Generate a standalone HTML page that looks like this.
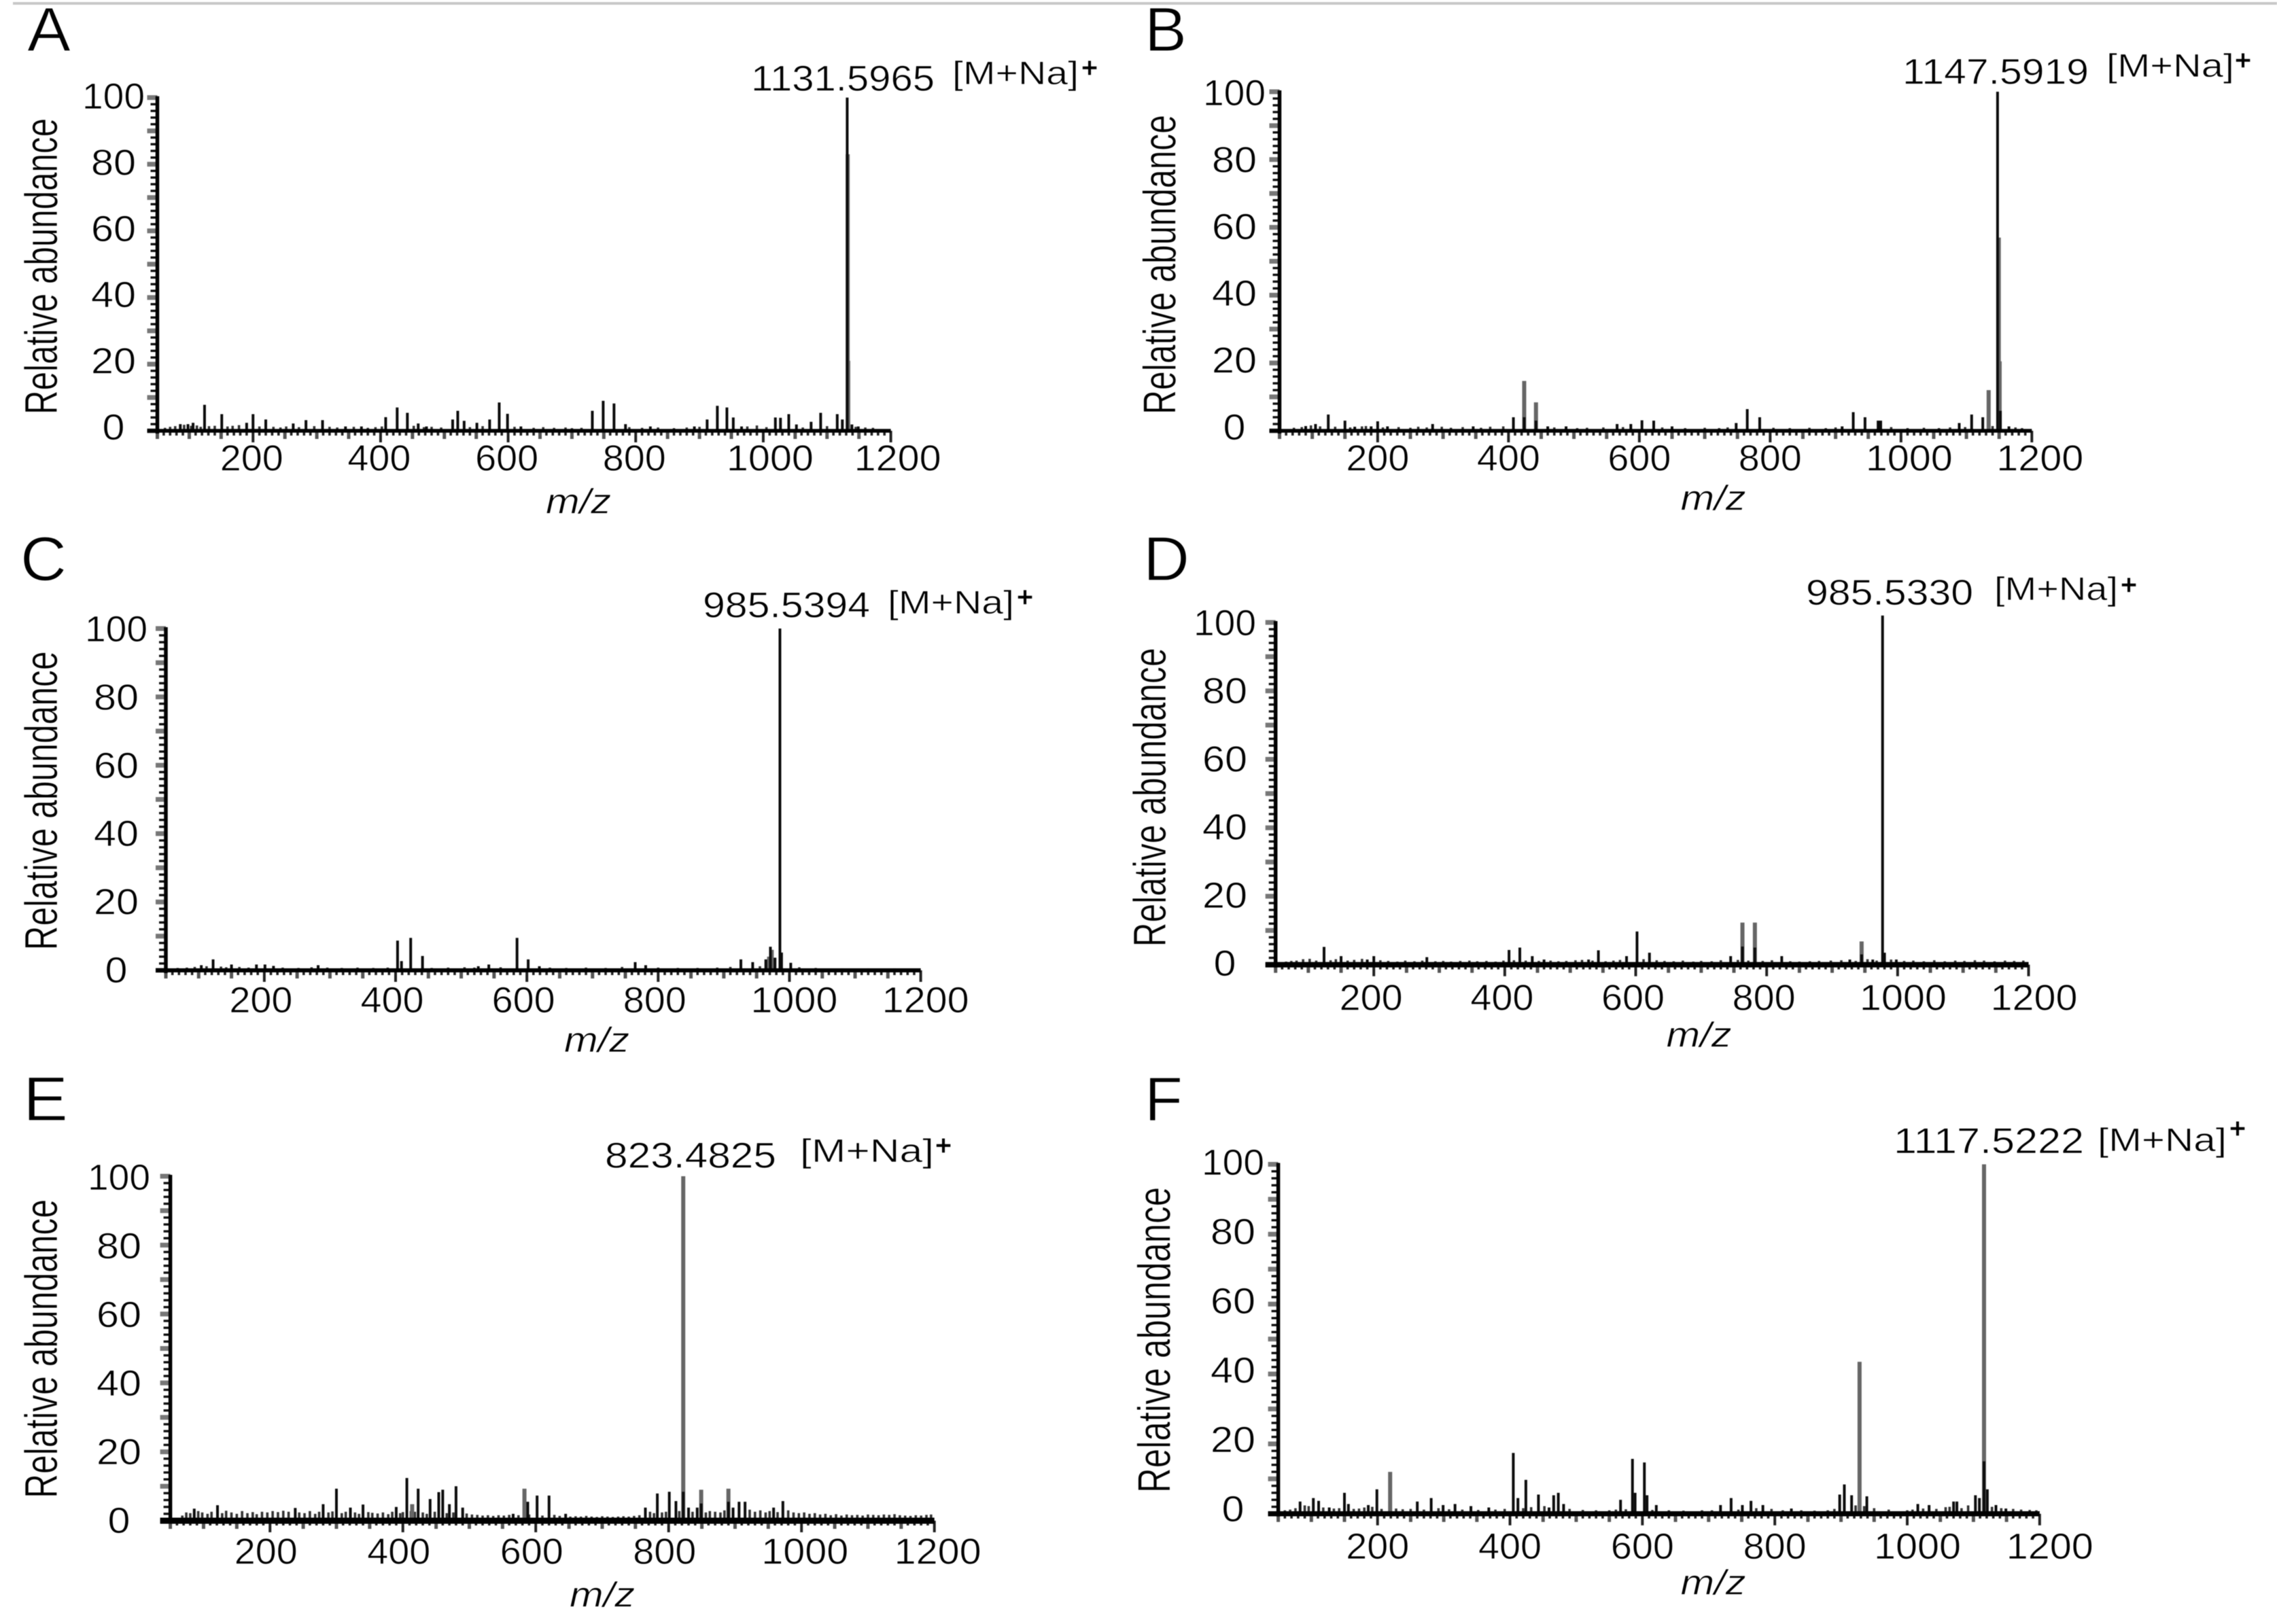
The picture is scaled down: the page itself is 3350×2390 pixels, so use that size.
<!DOCTYPE html>
<html lang="en">
<head>
<meta charset="utf-8">
<title>Mass spectra panels A–F</title>
<style>
html,body{margin:0;padding:0;background:#fff;}
svg{display:block;filter:blur(.5px);}
text{font-family:"Liberation Sans",sans-serif;fill:#000;stroke:#fff;stroke-width:.7px;}
.letter{font-size:92px;stroke-width:1.2px;}
.title{font-size:68px;stroke-width:.7px;}
.tick{font-size:54px;}
.mzlabel{font-size:52px;font-style:italic;}
.num{font-size:53px;}
.ion{font-size:48px;}
.plus{font-size:42px;font-weight:bold;stroke-width:.5px;}
.peak{stroke:#0c0c0c;stroke-width:4px;}
.faded{stroke:#666;stroke-width:6px;}
.grass{stroke:#333;stroke-width:3.6px;}
.axis{stroke:#000;stroke-width:5.5px;}
.tk{stroke:#222;stroke-width:3.6px;}
.tkm{stroke:#555;stroke-width:5px;}
.tkb{stroke:#222;stroke-width:4px;}
.ytk{stroke:#111;stroke-width:3.4px;}
.ytkm{stroke:#777;stroke-width:7px;}
</style>
</head>
<body>
<svg id="figure" xmlns="http://www.w3.org/2000/svg" width="3350" height="2390" viewBox="0 0 3350 2390">
<rect width="3350" height="2390" fill="#fff"/>
<rect x="19" y="3" width="3331" height="4" fill="#c8c8c8"/>

<g id="panel-a">
<text class="letter" x="40" y="75" textLength="64" lengthAdjust="spacingAndGlyphs">A</text>
<text class="title" transform="translate(84,610) rotate(-90)" textLength="436" lengthAdjust="spacingAndGlyphs">Relative abundance</text>
<text class="mzlabel" x="803" y="755.5" textLength="96" lengthAdjust="spacingAndGlyphs">m/z</text>
<text class="num" x="1105" y="133.5" textLength="270" lengthAdjust="spacingAndGlyphs">1131.5965</text>
<text class="ion" x="1401" y="124" textLength="186" lengthAdjust="spacingAndGlyphs">[M+Na]</text>
<text class="plus" x="1603" y="114" text-anchor="middle">+</text>
</g>

<g id="panel-b">
<text class="letter" x="1684" y="75" textLength="62" lengthAdjust="spacingAndGlyphs">B</text>
<text class="title" transform="translate(1729.5,610) rotate(-90)" textLength="441" lengthAdjust="spacingAndGlyphs">Relative abundance</text>
<text class="mzlabel" x="2472.5" y="750.5" textLength="96" lengthAdjust="spacingAndGlyphs">m/z</text>
<text class="num" x="2799" y="123.5" textLength="274" lengthAdjust="spacingAndGlyphs">1147.5919</text>
<text class="ion" x="3099" y="113" textLength="188" lengthAdjust="spacingAndGlyphs">[M+Na]</text>
<text class="plus" x="3300" y="103" text-anchor="middle">+</text>
</g>

<g id="panel-c">
<text class="letter" x="30" y="854" textLength="68" lengthAdjust="spacingAndGlyphs">C</text>
<text class="title" transform="translate(84,1398.5) rotate(-90)" textLength="440" lengthAdjust="spacingAndGlyphs">Relative abundance</text>
<text class="mzlabel" x="830" y="1548" textLength="96" lengthAdjust="spacingAndGlyphs">m/z</text>
<text class="num" x="1034" y="908.5" textLength="246" lengthAdjust="spacingAndGlyphs">985.5394</text>
<text class="ion" x="1306" y="903" textLength="186" lengthAdjust="spacingAndGlyphs">[M+Na]</text>
<text class="plus" x="1508" y="893" text-anchor="middle">+</text>
</g>

<g id="panel-d">
<text class="letter" x="1682" y="854" textLength="68" lengthAdjust="spacingAndGlyphs">D</text>
<text class="title" transform="translate(1715,1393.5) rotate(-90)" textLength="440" lengthAdjust="spacingAndGlyphs">Relative abundance</text>
<text class="mzlabel" x="2451.5" y="1540.5" textLength="96" lengthAdjust="spacingAndGlyphs">m/z</text>
<text class="num" x="2657" y="890" textLength="246" lengthAdjust="spacingAndGlyphs">985.5330</text>
<text class="ion" x="2934" y="883" textLength="182" lengthAdjust="spacingAndGlyphs">[M+Na]</text>
<text class="plus" x="3132" y="875" text-anchor="middle">+</text>
</g>

<g id="panel-e">
<text class="letter" x="34" y="1649" textLength="66" lengthAdjust="spacingAndGlyphs">E</text>
<text class="title" transform="translate(84,2205) rotate(-90)" textLength="440" lengthAdjust="spacingAndGlyphs">Relative abundance</text>
<text class="mzlabel" x="838" y="2364.5" textLength="96" lengthAdjust="spacingAndGlyphs">m/z</text>
<text class="num" x="890" y="1718.5" textLength="252" lengthAdjust="spacingAndGlyphs">823.4825</text>
<text class="ion" x="1177" y="1710" textLength="197" lengthAdjust="spacingAndGlyphs">[M+Na]</text>
<text class="plus" x="1388" y="1700" text-anchor="middle">+</text>
</g>

<g id="panel-f">
<text class="letter" x="1684" y="1649" textLength="56" lengthAdjust="spacingAndGlyphs">F</text>
<text class="title" transform="translate(1721.5,2197) rotate(-90)" textLength="450" lengthAdjust="spacingAndGlyphs">Relative abundance</text>
<text class="mzlabel" x="2472.5" y="2346.5" textLength="96" lengthAdjust="spacingAndGlyphs">m/z</text>
<text class="num" x="2786" y="1697" textLength="280" lengthAdjust="spacingAndGlyphs">1117.5222</text>
<text class="ion" x="3086" y="1694" textLength="190" lengthAdjust="spacingAndGlyphs">[M+Na]</text>
<text class="plus" x="3292" y="1675" text-anchor="middle">+</text>
</g>
</svg>

<script>
const xTickLabels = [200, 400, 600, 800, 1000, 1200];
const yTickLabels = [0, 20, 40, 60, 80, 100];

const peakMzA = [86,98,106,124,151,190,200,220,263,283,309,345,370,408,426,442,459,472,513,521,531,551,571,586,599,620,732,749,766,784,823,892,912,928,943,953,966,1019,1027,1040,1052,1075,1090,1116,1124,1131.6,1139,1149];
const peakAbA = [2,2,2.4,7.8,5,2.4,5,3.4,2.2,3.2,3.2,1.3,1.3,4.1,7,5.4,2.2,1.3,3.4,6,3,2.4,3.4,8.5,5.1,1.3,6,9,8.2,2,1.3,1.3,3.4,7.5,7,4,1.3,4,3.9,5,1.9,2.7,5.4,5,3.4,100,1.9,1.3];
const fadedMzA = [1132.4,1133.2];
const fadedAbA = [83,21];
const grassMzA = [62,70,78,92,103,112,118,131,140,160,168,178,210,232,243,252,272,296,320,332,358,380,392,402,452,468,480,495,540,560,610,640,655,672,690,700,715,790,810,835,860,880,900,975,990,1005,1062,1100,1145,1160,1172];
const grassAbA = [.9,1.2,1.4,1.8,1.5,1.6,1.2,1.4,1.5,1.3,1.5,1.7,1.3,1.2,1,1.3,1.1,1.4,1.2,1,1.2,.9,1.1,1.3,1.5,1.1,1.2,1,1.1,1.4,1.2,.9,1.1,.9,1,.8,.9,1.1,.9,1,.8,1,1.2,1.3,1.6,1.1,1,1.4,1.2,1,.9];

const peakMzB = [90,105,124.5,150,165,190,200,215,284,346,407.5,424,442,460,488,566,587,604,622,650,748,765,784,910,927,945,965,969,1089,1108,1125,1147.6,1152,1165];
const peakAbB = [1.4,2,4.8,3,1.2,1.3,2.8,1.3,2,1.3,4,4,3,1.3,1.3,2,2,3.1,3,1.3,2.3,6.4,4,1.3,5.5,4,3,3,2.3,4.8,4,100,5.9,1.3];
const fadedMzB = [424,442,1134,1149.5,1150.8];
const fadedAbB = [14.7,8.4,12,57,20.5];
const grassMzB = [72,84,98,112,135,158,176,182,208,232,250,262,275,298,312,330,358,372,392,470,505,520,545,575,635,670,700,722,735,805,830,860,885,900,985,1010,1035,1058,1075,1098,1140,1175,1185];
const grassAbB = [.9,1.1,1.6,1.3,1.2,1,1.3,1.4,1,1.1,.9,1.2,1,1.2,.9,1.1,.9,1.2,1.3,1,.8,.9,1,1.1,1,.8,.9,.8,1,.9,.8,.9,.8,1,1.1,.8,.9,.8,1,1.1,1.4,1,.8];

const peakMzC = [104,122,150,188,201,214,282,403,409,423,441,542,526,585,602,619,765,781,926,944,964,971,978,985.5,988,1002];
const peakAbC = [1.5,3.2,1.7,1.7,1.7,1.3,1.5,8.7,2.7,9.5,4.2,1.7,1.2,9.5,3.2,1.2,2.4,1.5,3.2,2.4,3.2,6.9,3.7,100,5.2,2.2];
const fadedMzC = [969,973];
const fadedAbC = [4,6];
const grassMzC = [68,82,94,112,134,142,162,176,228,252,272,296,318,342,366,388,455,480,505,520,560,635,660,690,720,745,800,830,860,890,910,955,1015,1040,1080,1120,1160];
const grassAbC = [.7,.8,1,1.2,1.1,.9,1,.8,.8,.7,.9,.8,.7,.8,.7,.8,.7,.8,.9,.8,.9,.8,.7,.8,.7,1,.8,.7,.7,.8,1,1.2,.9,.7,.6,.6,.6];

const peakMzD = [124,150,190,200,281,406.5,423,442,460,528,543,586,602,621,745,763,782,823,927,945,962,977,980,998];
const peakAbD = [5.2,2.5,1.5,2.5,2.2,4.3,5,2.5,1.5,1.5,4.2,2.5,9.7,3.5,2.5,5.3,5,2.5,1.5,3,1.5,102,3.5,1.5];
const fadedMzD = [763,782,945];
const fadedAbD = [12.3,12.3,6.8];
const grassMzD = [66,74,82,92,102,112,134,142,160,170,182,210,222,236,248,262,274,294,306,318,332,346,358,372,386,398,414,432,452,470,482,494,508,518,534,554,566,576,612,632,644,658,672,688,700,716,730,756,772,794,808,836,850,866,880,898,914,936,954,968,990,1010,1024,1040,1056,1072,1088,1102,1118,1132,1148,1164,1178,1192];
const grassAbD = [.9,1.1,1.2,1.6,1.7,1.2,1.3,1.6,1.2,1.4,1.7,1.3,1.1,.9,1.2,1,1.2,1,1.1,.9,1.1,1.2,1,1.1,.9,1.2,1.3,1.2,1.1,1.2,1,1.1,1.3,1.4,1.2,1,1.2,1.4,1.6,1.3,1.1,1,1.2,.9,1.1,1,1.3,1.4,1.2,1.1,1.3,1,.9,1,1.1,1.2,1.3,1.1,1.6,1.2,1.5,1.1,1.2,1,1.3,1,1.2,1.1,1.3,1.2,1,1.2,1.1,1.2];

const peakMzE = [86,121,238,280,300,321,340,390,406,423,441,454,460,470,480,490,566,588,602,620,645,765,783,801,811,822,830,843,849,890,897,906,915,958,972];
const peakAbE = [3.5,4.5,3.7,4.8,9.3,3.8,4.7,4,12.4,9.3,6.3,8.3,9,4.8,10,3.8,2,5.5,7.3,7.3,2,3.8,7.9,8.4,5.7,8.4,3.8,3.8,5,5.5,3.8,5.5,5.5,3.8,5.7];
const fadedMzE = [414,583,822,849,890];
const fadedAbE = [4.8,9.3,100,9,9.3];
const grassMzE = [68,74,80,92,98,106,112,128,134,142,150,158,166,174,180,188,196,204,212,220,228,244,252,260,268,274,288,294,308,314,328,334,348,354,362,370,378,384,396,400,412,418,430,436,448,466,476,496,504,512,520,528,536,544,552,560,574,590,610,628,636,652,660,668,676,684,692,700,708,716,724,732,740,748,756,772,778,790,796,816,836,856,862,870,878,884,922,930,938,946,952,964,980,988,996,1004,1012,1020,1028,1036,1044,1052,1060,1068,1076,1084,1092,1100,1108,1116,1124,1132,1140,1148,1156,1164,1172,1180,1188,1195];
const grassAbE = [1.5,2.4,2.2,2.8,2.4,2,2.6,2.2,2.9,2.4,2,2.8,2.2,2.5,1.9,2.6,2.4,2.8,2.5,2.9,2.6,2.4,2.2,2.8,2,2.6,2.4,2.7,2.2,2.6,2.4,2,2.5,2.3,2.1,2.4,1.9,2.6,2.2,2.5,2.8,2.6,2.4,2,2.6,2.2,2.4,2.1,1.8,1.7,1.5,1.6,1.4,1.6,1.5,1.7,1.6,1.8,1.5,1.7,1.4,1.2,1.3,1.2,1.4,1.2,1.1,1.3,1.2,1.1,1.2,1.3,1.2,1.4,1.6,2.6,2.2,2.4,2.6,2.8,2.6,2.4,2.8,2.6,2.4,3,3.2,2.6,3,2.4,2.8,2.5,3,2.4,2.2,2.4,2,2.2,1.8,2,1.6,1.9,1.5,1.8,1.6,1.7,1.5,1.8,1.7,1.6,1.8,1.7,1.9,1.6,1.5,1.4,1.6,1.5,1.7,1.8];

const peakMzF = [83,103,111,127,150,156,186,199,260,281,299,317,341,368,405,412,424,443,459,466,473,481,567,585,589,603,607,621,718,734,751,764,782,825,898,905,916,939,1016,1033,1070,1075,1103,1109,1116,1121,1134,1149];
const peakAbF = [3.5,4.5,3.7,1.8,6,2.8,2.5,7,3.5,4.5,2.5,2.8,2.2,1.8,17.4,4.5,9.7,5.5,1.8,5.3,6,2.8,4,15.7,6,14.7,5.3,2.5,2.5,4.5,2.5,3.7,2.5,1.5,5.5,8.4,5.3,5,2.8,2.5,3.5,3.5,5.3,4.5,15,7,2.5,1.5];
const fadedMzF = [219,928,1116];
const fadedAbF = [12,43.5,100];
const grassMzF = [60,68,76,90,96,118,134,142,164,172,180,192,206,228,238,250,270,292,308,328,352,378,392,420,432,452,490,510,530,550,560,575,615,640,662,690,705,745,772,795,812,840,860,880,890,922,935,950,972,1000,1008,1024,1044,1058,1064,1082,1092,1128,1142,1160,1172,1185,1195];
const grassAbF = [1,1.2,1.6,2.4,2.2,1.8,1.5,1.6,1.4,1.5,1.8,2,1.4,1.5,1.3,1.4,1.2,1.6,1.3,1.2,1.1,1.2,1.4,1.6,1.9,2.2,1.4,1.1,1,1,1.2,1.3,1.1,1,.9,1,1,1.2,1.6,1.4,1,1,.9,1,1.4,2.4,2.2,1.6,1.2,1,1.2,1.5,1.4,1.9,2,1.6,2.4,2,1.6,1.4,1.2,1.1,1];

const panels = [
  {key:'a', left:231.5,  right:1310.6, y0:634,    y100:143.6,  labelX:167,  label0:647,  label100:160,  labelXBase:692.7, dx3:-2, dx4:10, axisW:5.5, mz:peakMzA, ab:peakAbA, fmz:fadedMzA, fab:fadedAbA, gmz:grassMzA, gab:grassAbA},
  {key:'b', left:1882.5, right:2989.3, y0:634,    y100:135,    labelX:1816, label0:647,  label100:155,  labelXBase:692.7, dx3:0,  dx4:12, axisW:5.5, mz:peakMzB, ab:peakAbB, fmz:fadedMzB, fab:fadedAbB, gmz:grassMzB, gab:grassAbB},
  {key:'c', left:244,    right:1354.6, y0:1428,   y100:925,    labelX:171,  label0:1446, label100:944,  labelXBase:1490,  dx3:-5, dx4:7,  axisW:6,   mz:peakMzC, ab:peakAbC, fmz:fadedMzC, fab:fadedAbC, gmz:grassMzC, gab:grassAbC},
  {key:'d', left:1876.7, right:2984.5, y0:1419.7, y100:916,    labelX:1802, label0:1436, label100:935,  labelXBase:1486.7,dx3:-4, dx4:8,  axisW:8,   mz:peakMzD, ab:peakAbD, fmz:fadedMzD, fab:fadedAbD, gmz:grassMzD, gab:grassAbD},
  {key:'e', left:250.6,  right:1374.7, y0:2238,   y100:1731,   labelX:175,  label0:2256, label100:1751, labelXBase:2301.7,dx3:-6, dx4:5,  axisW:9,   mz:peakMzE, ab:peakAbE, fmz:fadedMzE, fab:fadedAbE, gmz:grassMzE, gab:grassAbE},
  {key:'f', left:1880.6, right:3000.8, y0:2227.8, y100:1713.5, labelX:1814, label0:2239, label100:1729, labelXBase:2294,  dx3:0,  dx4:15, axisW:7.5, mz:peakMzF, ab:peakAbF, fmz:fadedMzF, fab:fadedAbF, gmz:grassMzF, gab:grassAbF}
];

const SVGNS = 'http://www.w3.org/2000/svg';
const MZ_MIN = 50;
const MZ_MAX = 1200;

function makeLine(parent, x1, y1, x2, y2, cls) {
  const el = document.createElementNS(SVGNS, 'line');
  el.setAttribute('x1', x1);
  el.setAttribute('y1', y1);
  el.setAttribute('x2', x2);
  el.setAttribute('y2', y2);
  el.setAttribute('class', cls);
  parent.appendChild(el);
  return el;
}

function makeTick(parent, x, y, len, anchor) {
  const el = document.createElementNS(SVGNS, 'text');
  el.setAttribute('class', 'tick');
  el.setAttribute('x', x);
  el.setAttribute('y', y);
  el.setAttribute('text-anchor', anchor);
  el.setAttribute('textLength', len);
  el.setAttribute('lengthAdjust', 'spacingAndGlyphs');
  parent.appendChild(el);
  return el;
}

panels.forEach(function (p) {
  const g = document.getElementById('panel-' + p.key);
  const x = function (mz) { return p.left + (mz - MZ_MIN) * (p.right - p.left) / (MZ_MAX - MZ_MIN); };
  const y = function (v) { return p.y0 - v * (p.y0 - p.y100) / 100; };

  p.gmz.forEach(function (mz, i) {
    const el = makeLine(g, x(mz), y(0), x(mz), y(p.gab[i]), 'grass');
    
    
  });
  p.fmz.forEach(function (mz, i) {
    const el = makeLine(g, x(mz), y(0), x(mz), y(p.fab[i]), 'faded');
    
    
  });
  p.mz.forEach(function (mz, i) {
    const el = makeLine(g, x(mz), y(0), x(mz), y(p.ab[i]), 'peak');
    
    
  });

  for (let v = 0; v <= 100; v += 2) {
    const major = v % 10 === 0;
    const el = makeLine(g, p.left - (major ? 15 : 10), y(v), p.left, y(v), major ? 'ytkm' : 'ytk');
    
    
  }
  for (let m = MZ_MIN; m <= MZ_MAX; m += 10) {
    const big = m % 200 === 0;
    const mid = m % 50 === 0;
    const len = big ? 17 : (mid ? 12 : 7);
    const el = makeLine(g, x(m), p.y0, x(m), p.y0 + len, big ? 'tkb' : (mid ? 'tkm' : 'tk'));
    
    
  }

  const yAxis = makeLine(g, p.left, y(100) - 2, p.left, p.y0 + 4, 'axis');
  
  
  const xAxis = makeLine(g, p.left - 15, p.y0, p.right, p.y0, 'axis');
  xAxis.setAttribute('style', 'stroke-width:' + p.axisW + 'px');
  
  

  xTickLabels.forEach(function (t) {
    const s = String(t);
    const shift = s.length === 4 ? p.dx4 : p.dx3;
    const el = makeTick(g, x(t) + shift, p.labelXBase, s.length === 4 ? 128 : 93, 'middle');
    el.textContent = s;
    
    
  });
  yTickLabels.forEach(function (t) {
    const s = String(t);
    const base = p.label0 + (p.label100 - p.label0) * t / 100;
    const el = makeTick(g, p.labelX, base, s.length === 3 ? 92 : (s.length === 2 ? 66 : 33), 'middle');
    el.textContent = s;
    
    
  });
});
</script>
</body>
</html>
